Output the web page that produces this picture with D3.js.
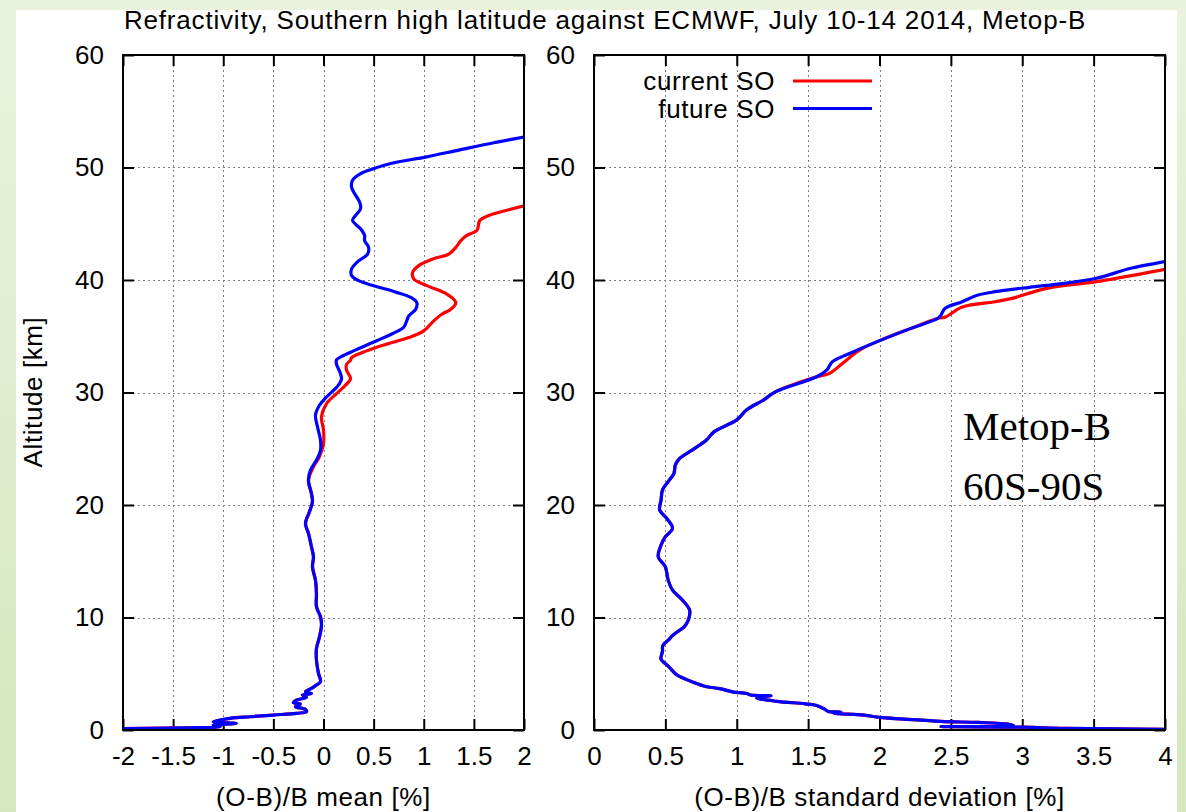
<!DOCTYPE html>
<html>
<head>
<meta charset="utf-8">
<script src="https://cdn.jsdelivr.net/npm/d3@7"></script>
<style>
  html, body { margin: 0; padding: 0; background: #ffffff; }
  svg { display: block; }
  .sans { font-family: "Liberation Sans", Arial, Helvetica, sans-serif; letter-spacing: 0.6px; }
</style>
</head>
<body>
<svg id="chart" width="1186" height="812"></svg>
<script>
// ---- data: altitude [km] vs (O-B)/B statistics [%] ----
const title = "Refractivity, Southern high latitude against ECMWF, July 10-14 2014, Metop-B";
const seriesNames = ["current SO", "future SO"];
const seriesColors = ["#ff0000", "#0000ff"];
const altTicks = [0, 10, 20, 30, 40, 50, 60];
const meanTicks = [-2, -1.5, -1, -0.5, 0, 0.5, 1, 1.5, 2];
const stdTicks = [0, 0.5, 1, 1.5, 2, 2.5, 3, 3.5, 4];

// shared lower part of the mean profile: [altitude, mean]
const meanLower = [
  [0.06,-2.6],[0.12,-2.0],[0.2,-1.37],[0.3,-1.03],[0.44,-1.1],[0.59,-0.87],[0.74,-1.1],
  [1.04,-0.93],[1.18,-0.73],[1.33,-0.5],[1.48,-0.27],[1.63,-0.17],[1.83,-0.18],[2.07,-0.28],
  [2.3,-0.23],[2.43,-0.3],[2.66,-0.27],[2.9,-0.17],[3.1,-0.21],[3.25,-0.12],[3.4,-0.18],
  [3.7,-0.12],[4.0,-0.07],[4.3,-0.03],[5.03,-0.05],[6.2,-0.07],[7.25,-0.07],[8.28,-0.04],
  [9.32,-0.02],[10.06,-0.03],[10.95,-0.07],[12.13,-0.07],[13.3,-0.08],[14.5,-0.11],
  [15.4,-0.1],[16.28,-0.12],[17.47,-0.15],[18.36,-0.18],[19.4,-0.14],[20.3,-0.11],
  [21.0,-0.12],[22.2,-0.15]
];
const meanCurrentUpper = [
  [23.4,-0.1],[24.3,-0.04],[25.47,0.0],[26.65,0.0],[27.84,-0.02],[29.0,0.03],[29.9,0.13],
  [30.65,0.22],[31.24,0.27],[31.98,0.23],[32.5,0.23],[32.87,0.27],[33.1,0.28],[33.7,0.43],
  [34.3,0.63],[34.88,0.85],[35.48,1.0],[36.37,1.1],[36.96,1.18],[37.4,1.27],[38.0,1.32],
  [38.75,1.23],[39.5,1.03],[40.1,0.9],[40.7,0.89],[41.28,0.95],[41.9,1.1],[42.3,1.25],
  [42.9,1.32],[43.5,1.37],[43.96,1.43],[44.4,1.53],[45.3,1.56],[45.74,1.65],[46.2,1.83],
  [46.63,2.02],[47.0,2.2]
];
const meanFutureUpper = [
  [23.1,-0.13],[24.0,-0.07],[24.87,-0.03],[25.76,-0.03],[26.95,-0.06],[27.98,-0.08],
  [28.87,-0.04],[29.6,0.03],[30.36,0.12],[30.8,0.16],[31.24,0.18],[31.9,0.16],[32.5,0.13],
  [32.9,0.13],[33.2,0.18],[33.7,0.3],[34.6,0.53],[35.2,0.68],[35.8,0.8],[36.37,0.83],
  [36.8,0.85],[37.4,0.92],[38.0,0.93],[38.45,0.87],[38.9,0.73],[39.49,0.5],[39.94,0.35],
  [40.4,0.28],[40.98,0.28],[41.7,0.35],[42.3,0.44],[42.9,0.45],[43.5,0.41],[43.96,0.41],
  [44.55,0.37],[45.3,0.29],[45.74,0.32],[46.34,0.37],[46.93,0.36],[47.68,0.31],[48.27,0.28],
  [48.87,0.29],[49.46,0.37],[49.9,0.5],[50.36,0.67],[50.95,1.03],[51.55,1.35],[52.2,1.7],
  [52.7,2.0],[53.2,2.4]
];

// shared lower part of the standard deviation profile: [altitude, std]
const stdLower = [
  [0.03,4.3],[0.06,4.0],[0.15,3.3],[0.25,3.0],[0.3,2.43],[0.38,2.94],[0.52,2.9],[0.67,2.69],
  [0.76,2.43],[0.97,2.17],[1.12,2.0],[1.33,1.89],[1.5,1.68],[1.6,1.73],[1.65,1.64],
  [1.82,1.62],[2.18,1.56],[2.33,1.48],[2.55,1.28],[2.85,1.14],[3.0,1.2],[3.05,1.24],
  [3.1,1.1],[3.24,1.07],[3.39,0.97],[3.68,0.88],[3.85,0.79],[4.27,0.69],[4.9,0.58],
  [5.0,0.57],[5.67,0.52],[5.9,0.5],[6.27,0.47],[6.5,0.47],[7.03,0.48],[7.4,0.48],
  [7.64,0.49],[7.98,0.52],[8.4,0.55],[8.87,0.6],[9.15,0.63],[9.76,0.66],[10.65,0.67],
  [11.54,0.62],[12.43,0.55],[13.3,0.52],[14.5,0.5],[15.4,0.45],[16.44,0.47],[17.18,0.5],
  [17.92,0.55],[18.8,0.51],[19.55,0.46],[20.45,0.47],[21.34,0.48],[22.08,0.52],
  [22.82,0.56],[23.56,0.57],[24.15,0.6],[24.9,0.69],[25.8,0.79],[26.5,0.84],[27.57,1.0],
  [28.46,1.07],[29.35,1.19],[30.06,1.27]
];
const stdCurrentUpper = [
  [31.4,1.56],[31.7,1.65],[32.58,1.74],[33.77,1.86],[34.5,1.98],[35.7,2.22],[36.6,2.41],
  [36.7,2.46],[37.6,2.58],[38.07,2.81],[38.37,2.93],[39.26,3.17],[39.85,3.52],[40.95,4.0],
  [41.3,4.15]
];
const stdFutureUpper = [
  [31.4,1.56],[31.99,1.63],[32.73,1.67],[33.47,1.79],[34.5,1.98],[35.7,2.22],[36.6,2.41],
  [36.88,2.43],[37.48,2.46],[38.07,2.58],[38.66,2.69],[38.96,2.81],[39.35,3.05],[39.7,3.29],
  [40.15,3.52],[41.04,3.76],[41.63,4.0],[42.0,4.15]
];

// ---- layout ----
const svg = d3.select("#chart");
const W = 1186, H = 812;
const FONT = 26;

const defs = svg.append("defs");
const bg = defs.append("linearGradient").attr("id", "bgGrad")
  .attr("x1", 0).attr("y1", 0).attr("x2", 0).attr("y2", 1);
bg.append("stop").attr("offset", "0%").attr("stop-color", "#eaf2dc");
bg.append("stop").attr("offset", "100%").attr("stop-color", "#d5e7be");

svg.append("rect").attr("width", W).attr("height", H).attr("fill", "url(#bgGrad)");
svg.append("rect").attr("x", 16).attr("y", 10).attr("width", 1161).attr("height", H - 10)
  .attr("fill", "#ffffff");

const plotTop = 55, plotBottom = 730;
const y = d3.scaleLinear().domain([0, 60]).range([plotBottom, plotTop]);

const panels = [
  { id: "mean", x0: 123, x1: 524, domain: [-2, 2], ticks: meanTicks,
    label: "(O-B)/B mean [%]",
    series: [meanLower.concat(meanCurrentUpper), meanLower.concat(meanFutureUpper)] },
  { id: "std", x0: 594, x1: 1165, domain: [0, 4], ticks: stdTicks,
    label: "(O-B)/B standard deviation [%]",
    series: [stdLower.concat(stdCurrentUpper), stdLower.concat(stdFutureUpper)] }
];

const fmt = d => String(d);

panels.forEach(p => {
  const x = d3.scaleLinear().domain(p.domain).range([p.x0, p.x1]);
  const g = svg.append("g");

  defs.append("clipPath").attr("id", "clip-" + p.id)
    .append("rect").attr("x", p.x0).attr("y", plotTop)
    .attr("width", p.x1 - p.x0).attr("height", plotBottom - plotTop);

  // dotted grid at interior ticks
  const grid = g.append("g").attr("stroke", "#808080").attr("stroke-width", 1)
    .attr("stroke-dasharray", "2,3");
  grid.selectAll("line.gx").data(p.ticks.slice(1, -1)).join("line")
    .attr("x1", d => Math.round(x(d)) + 0.5).attr("x2", d => Math.round(x(d)) + 0.5)
    .attr("y1", plotTop).attr("y2", plotBottom);
  grid.selectAll("line.gy").data(altTicks.slice(1, -1)).join("line")
    .attr("y1", d => Math.round(y(d)) + 0.5).attr("y2", d => Math.round(y(d)) + 0.5)
    .attr("x1", p.x0).attr("x2", p.x1);

  // axes with inward ticks on all four sides
  const tickLen = 11;
  const axB = g.append("g").attr("transform", `translate(0,${plotBottom})`)
    .call(d3.axisBottom(x).tickValues(p.ticks).tickFormat(fmt).tickSizeInner(-tickLen)
      .tickSizeOuter(0).tickPadding(17));
  const axT = g.append("g").attr("transform", `translate(0,${plotTop})`)
    .call(d3.axisTop(x).tickValues(p.ticks).tickFormat("").tickSizeInner(-tickLen).tickSizeOuter(0));
  const axL = g.append("g").attr("transform", `translate(${p.x0},0)`)
    .call(d3.axisLeft(y).tickValues(altTicks).tickSizeInner(-tickLen).tickSizeOuter(0)
      .tickPadding(19));
  const axR = g.append("g").attr("transform", `translate(${p.x1},0)`)
    .call(d3.axisRight(y).tickValues(altTicks).tickFormat("").tickSizeInner(-tickLen).tickSizeOuter(0));
  [axB, axT, axL, axR].forEach(a => {
    a.select(".domain").remove();
    a.selectAll(".tick line").attr("stroke", "#000").attr("stroke-width", 2);
    a.selectAll("text").attr("font-size", FONT).attr("fill", "#000")
      .attr("font-family", "Liberation Sans, Arial, sans-serif");
  });

  // profiles, current first so future is drawn on top
  const line = d3.line().x(d => x(d[1])).y(d => y(d[0])).curve(d3.curveCatmullRom.alpha(0.5));
  const curves = g.append("g").attr("clip-path", `url(#clip-${p.id})`);
  p.series.forEach((s, i) => {
    curves.append("path").datum(s).attr("d", line).attr("fill", "none")
      .attr("stroke", seriesColors[i]).attr("stroke-width", 3.2)
      .attr("stroke-linejoin", "round").attr("stroke-linecap", "round");
  });

  // frame
  g.append("rect").attr("x", p.x0).attr("y", plotTop).attr("width", p.x1 - p.x0)
    .attr("height", plotBottom - plotTop).attr("fill", "none").attr("stroke", "#000")
    .attr("stroke-width", 2);

  // x axis title
  svg.append("text").attr("class", "sans").attr("x", (p.x0 + p.x1) / 2).attr("y", 806)
    .attr("text-anchor", "middle").attr("font-size", FONT).text(p.label);
});

// title and y-axis title
svg.append("text").attr("class", "sans").attr("x", 605).attr("y", 29)
  .attr("text-anchor", "middle").attr("font-size", FONT)
  .style("letter-spacing", "0.82px").text(title);
svg.append("text").attr("class", "sans")
  .attr("transform", "translate(42,392) rotate(-90)")
  .attr("text-anchor", "middle").attr("font-size", FONT).text("Altitude [km]");

// legend in the right panel
const legend = svg.append("g");
seriesNames.forEach((name, i) => {
  const ly = 81 + i * 27.5;
  legend.append("text").attr("class", "sans").attr("x", 775).attr("y", ly + 9)
    .attr("text-anchor", "end").attr("font-size", FONT).text(name);
  legend.append("line").attr("x1", 793).attr("x2", 872).attr("y1", ly).attr("y2", ly)
    .attr("stroke", seriesColors[i]).attr("stroke-width", 3);
});

// satellite / region annotation
const note = svg.append("g").attr("font-family", "Liberation Serif, 'Times New Roman', serif")
  .attr("font-size", 41).attr("fill", "#000");
note.append("text").attr("x", 963).attr("y", 440).text("Metop-B");
note.append("text").attr("x", 963).attr("y", 500).text("60S-90S");
</script>
</body>
</html>
